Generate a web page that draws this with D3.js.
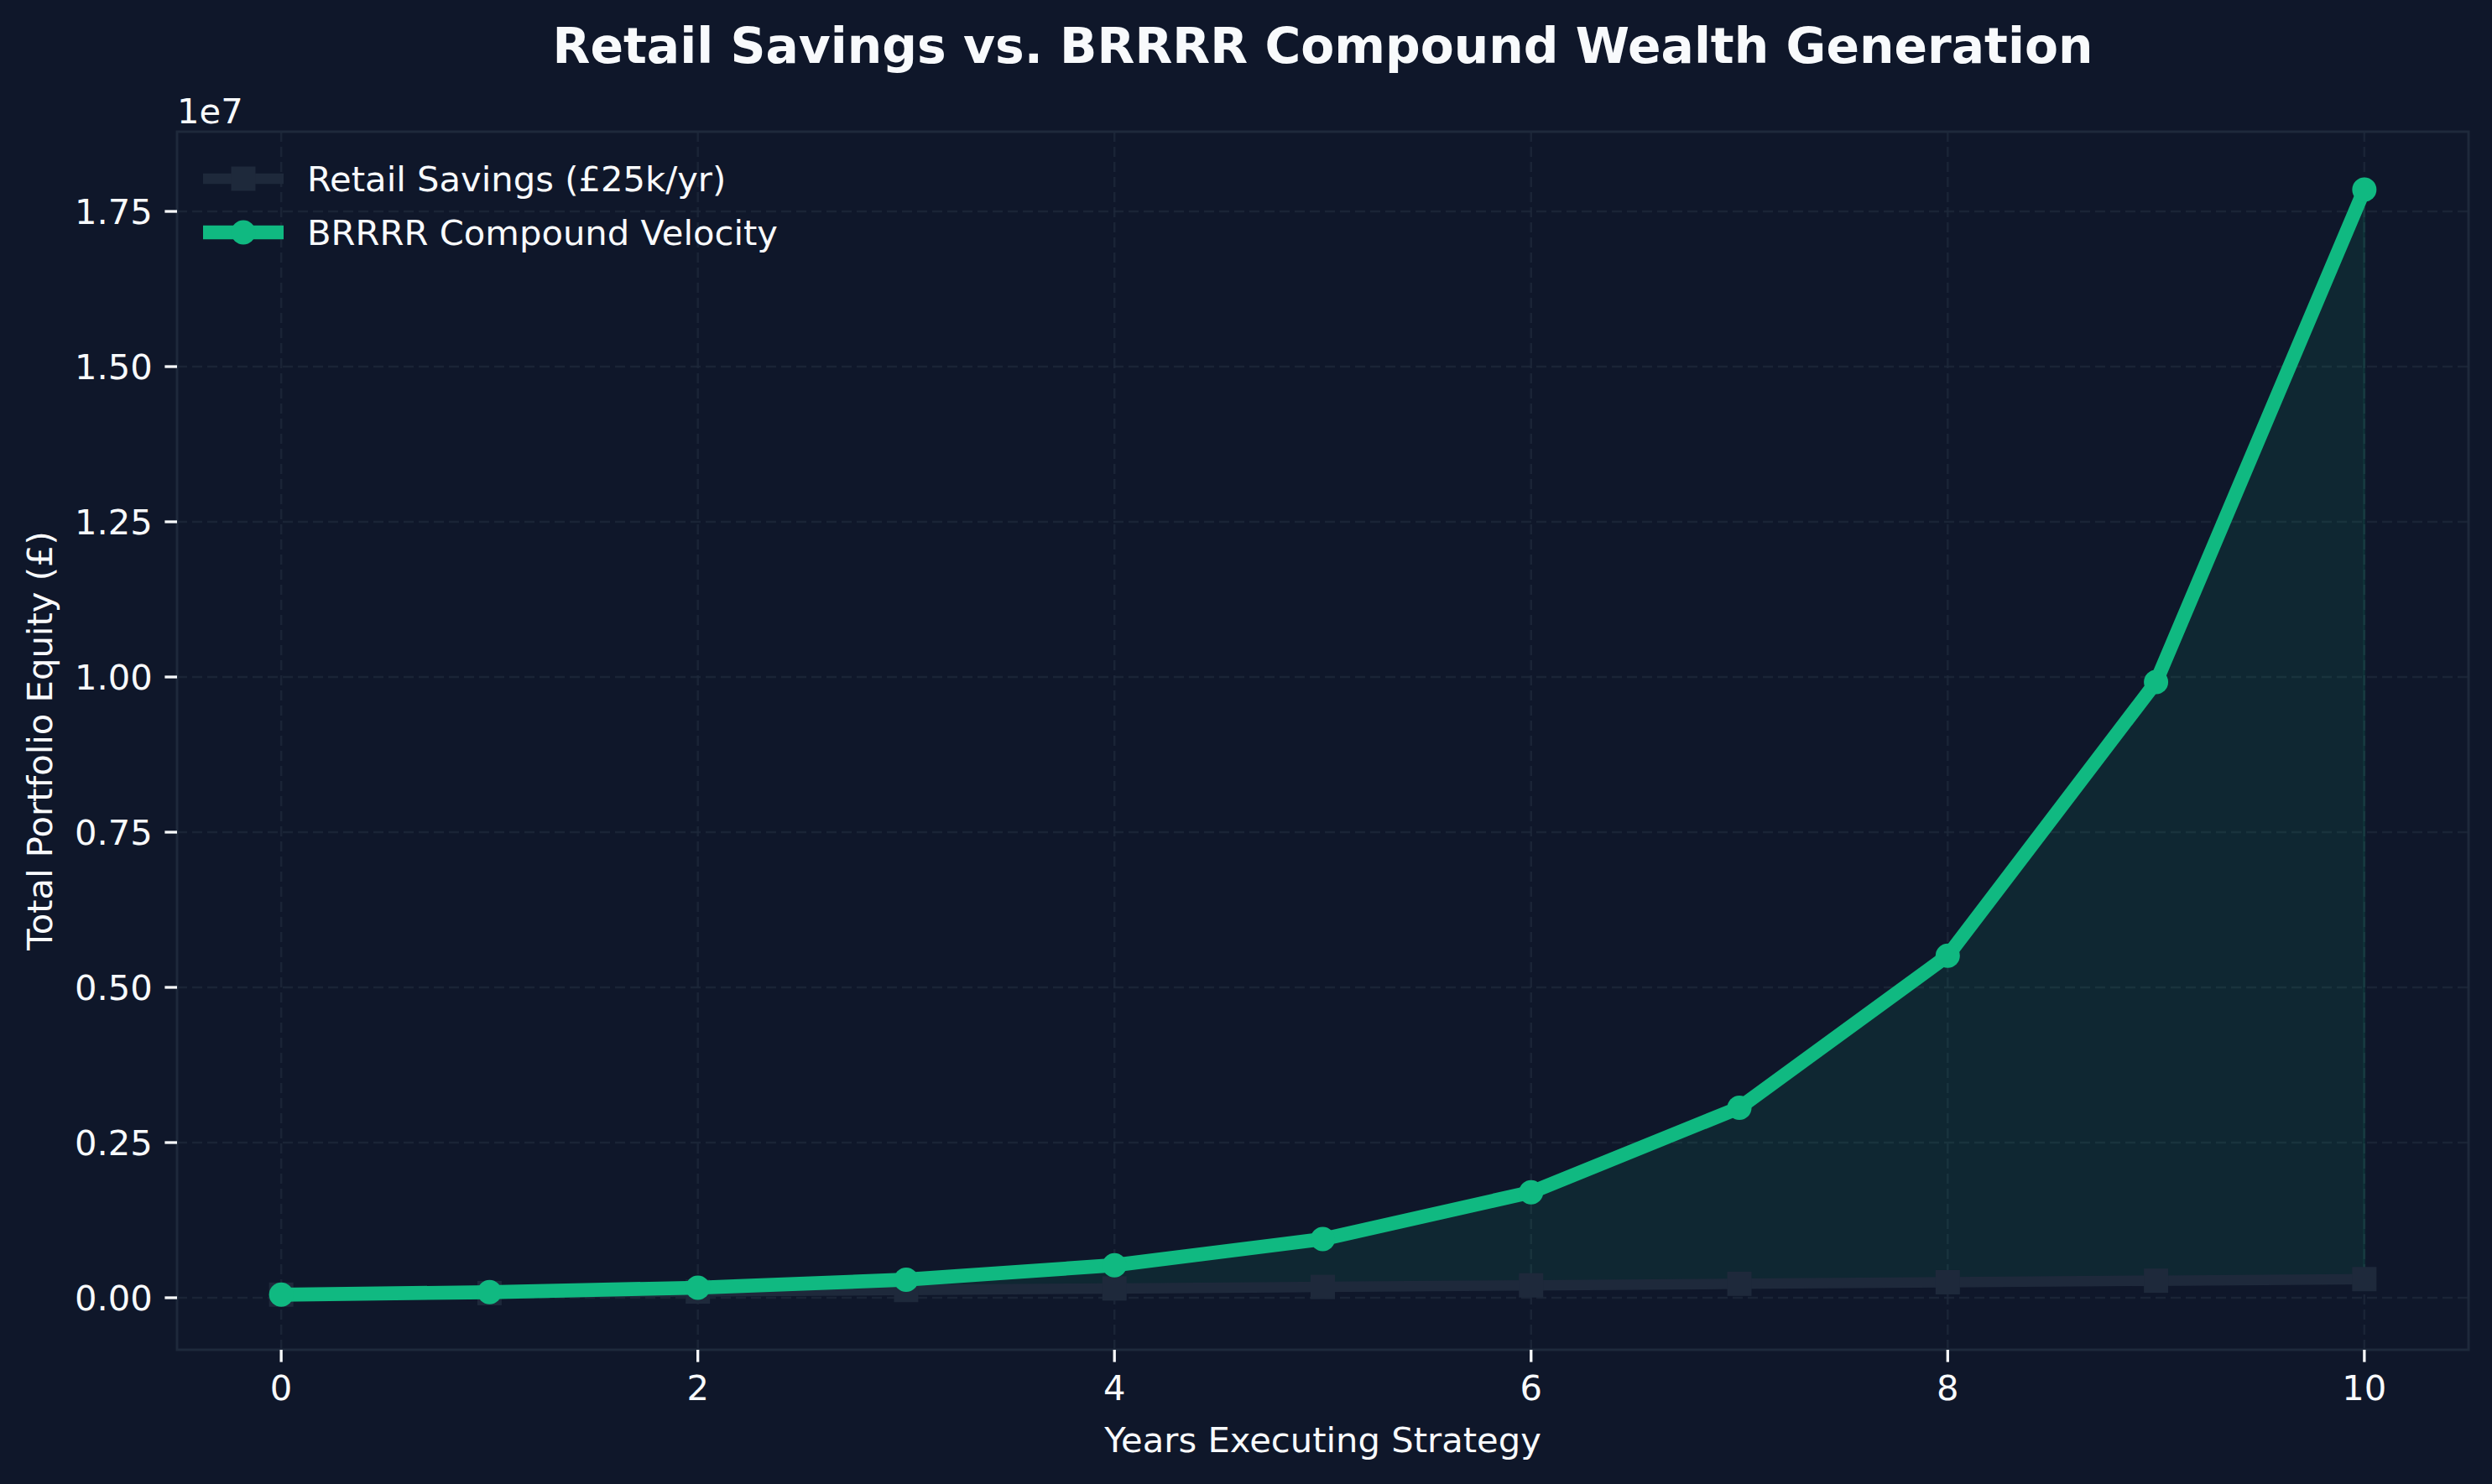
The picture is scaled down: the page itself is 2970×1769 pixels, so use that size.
<!DOCTYPE html>
<html>
<head>
<meta charset="utf-8">
<script src="https://cdn.jsdelivr.net/npm/d3@7"></script>
<style>
  html, body { margin: 0; padding: 0; background: #0f172a; }
  svg { display: block; }
  text { font-family: "DejaVu Sans", sans-serif; fill: #f8fafc; }
</style>
</head>
<body>
<svg id="chart" width="2970" height="1769"></svg>
<script>
// ---- data ----
const years = [0, 1, 2, 3, 4, 5, 6, 7, 8, 9, 10];
const retailSavings = [50000, 75000, 100000, 125000, 150000, 175000, 200000, 225000, 250000, 275000, 300000];
const brrrrEquity = [50000, 90000, 162000, 291600, 524880, 944784, 1700611, 3061100, 5509980, 9917964, 17852335];
const xTicks = [0, 2, 4, 6, 8, 10];
const yTicks = [0, 2500000, 5000000, 7500000, 10000000, 12500000, 15000000, 17500000];
const yTickLabels = ["0.00", "0.25", "0.50", "0.75", "1.00", "1.25", "1.50", "1.75"];
const seriesNames = ["Retail Savings (£25k/yr)", "BRRRR Compound Velocity"];
const titleText = "Retail Savings vs. BRRRR Compound Wealth Generation";
const xLabel = "Years Executing Strategy";
const yLabel = "Total Portfolio Equity (£)";
const offsetText = "1e7";

// ---- layout ----
const W = 2970, H = 1769;
const L = 211, R = 2942, T = 157, B = 1609;
const bg = "#0f172a", gridC = "#1e293b", green = "#10b981", retailC = "#1e293b";

const svg = d3.select("#chart");
svg.append("rect").attr("width", W).attr("height", H).attr("fill", bg);

const x = d3.scaleLinear().domain([-0.5, 10.5]).range([L, R]);
const y = d3.scaleLinear().domain([-838000, 18784000]).range([B, T]);

// grid
const grid = svg.append("g");
grid.selectAll("line.vg").data(xTicks).enter().append("line")
  .attr("x1", d => x(d)).attr("x2", d => x(d)).attr("y1", T).attr("y2", B)
  .attr("stroke", gridC).attr("stroke-width", 2.6).attr("stroke-dasharray", "12,6").attr("opacity", 0.75);
grid.selectAll("line.hg").data(yTicks).enter().append("line")
  .attr("y1", d => y(d)).attr("y2", d => y(d)).attr("x1", L).attr("x2", R)
  .attr("stroke", gridC).attr("stroke-width", 2.6).attr("stroke-dasharray", "12,6").attr("opacity", 0.75);

// fill between
const pts = years.map((d, i) => ({ x: d, lo: retailSavings[i], hi: brrrrEquity[i] }));
const area = d3.area().x(d => x(d.x)).y0(d => y(d.lo)).y1(d => y(d.hi));
svg.append("path").datum(pts).attr("d", area)
  .attr("fill", green).attr("fill-opacity", 0.1)
  .attr("stroke", green).attr("stroke-opacity", 0.1).attr("stroke-width", 3);

// retail line
const line = d3.line().x(d => x(d[0])).y(d => y(d[1]));
svg.append("path").datum(years.map((d, i) => [d, retailSavings[i]])).attr("d", line)
  .attr("fill", "none").attr("stroke", retailC).attr("stroke-width", 12.5).attr("stroke-linejoin", "round");
svg.append("g").selectAll("rect").data(years.map((d, i) => [d, retailSavings[i]])).enter().append("rect")
  .attr("x", d => x(d[0]) - 14.5).attr("y", d => y(d[1]) - 14.5)
  .attr("width", 29).attr("height", 29).attr("fill", retailC);

// brrrr line
svg.append("path").datum(years.map((d, i) => [d, brrrrEquity[i]])).attr("d", line)
  .attr("fill", "none").attr("stroke", green).attr("stroke-width", 16.7).attr("stroke-linejoin", "round");
svg.append("g").selectAll("circle").data(years.map((d, i) => [d, brrrrEquity[i]])).enter().append("circle")
  .attr("cx", d => x(d[0])).attr("cy", d => y(d[1])).attr("r", 14.5).attr("fill", green);

// spines
svg.append("rect").attr("x", L).attr("y", T).attr("width", R - L).attr("height", B - T)
  .attr("fill", "none").attr("stroke", gridC).attr("stroke-width", 3);

// x axis ticks
const xAxis = svg.append("g");
xAxis.selectAll("line").data(xTicks).enter().append("line")
  .attr("x1", d => x(d)).attr("x2", d => x(d)).attr("y1", B).attr("y2", B + 14.6)
  .attr("stroke", "#f8fafc").attr("stroke-width", 3.3);
xAxis.selectAll("text").data(xTicks).enter().append("text")
  .attr("x", d => x(d)).attr("y", B + 14.6 + 14.6 + 31)
  .attr("text-anchor", "middle").attr("font-size", 41.7).text(d => d);

// y axis ticks
const yAxis = svg.append("g");
yAxis.selectAll("line").data(yTicks).enter().append("line")
  .attr("x1", L - 14.6).attr("x2", L).attr("y1", d => y(d)).attr("y2", d => y(d))
  .attr("stroke", "#f8fafc").attr("stroke-width", 3.3);
yAxis.selectAll("text").data(yTicks).enter().append("text")
  .attr("x", L - 14.6 - 14.6).attr("y", d => y(d) + 15)
  .attr("text-anchor", "end").attr("font-size", 41.7).text((d, i) => yTickLabels[i]);

// offset text
svg.append("text").attr("x", L).attr("y", 147).attr("font-size", 41.7).text(offsetText);

// labels
svg.append("text").attr("x", (L + R) / 2).attr("y", 1731).attr("text-anchor", "middle")
  .attr("font-size", 41.7).text(xLabel);
svg.append("text").attr("transform", `translate(62, ${(T + B) / 2}) rotate(-90)`)
  .attr("text-anchor", "middle").attr("font-size", 41.7).text(yLabel);

// title
svg.append("text").attr("x", (L + R) / 2).attr("y", 75).attr("text-anchor", "middle")
  .attr("font-size", 58.3).attr("font-weight", "bold").text(titleText);

// legend
const leg = svg.append("g");
const legY = [213, 277];
// retail entry
leg.append("line").attr("x1", 242).attr("x2", 338).attr("y1", legY[0]).attr("y2", legY[0])
  .attr("stroke", retailC).attr("stroke-width", 12.5);
leg.append("rect").attr("x", 290 - 14.5).attr("y", legY[0] - 14.5).attr("width", 29).attr("height", 29).attr("fill", retailC);
leg.append("text").attr("x", 366).attr("y", legY[0] + 15).attr("font-size", 41.7).text(seriesNames[0]);
// brrrr entry
leg.append("line").attr("x1", 242).attr("x2", 338).attr("y1", legY[1]).attr("y2", legY[1])
  .attr("stroke", green).attr("stroke-width", 16.7);
leg.append("circle").attr("cx", 290).attr("cy", legY[1]).attr("r", 14.5).attr("fill", green);
leg.append("text").attr("x", 366).attr("y", legY[1] + 15).attr("font-size", 41.7).text(seriesNames[1]);
</script>
</body>
</html>
